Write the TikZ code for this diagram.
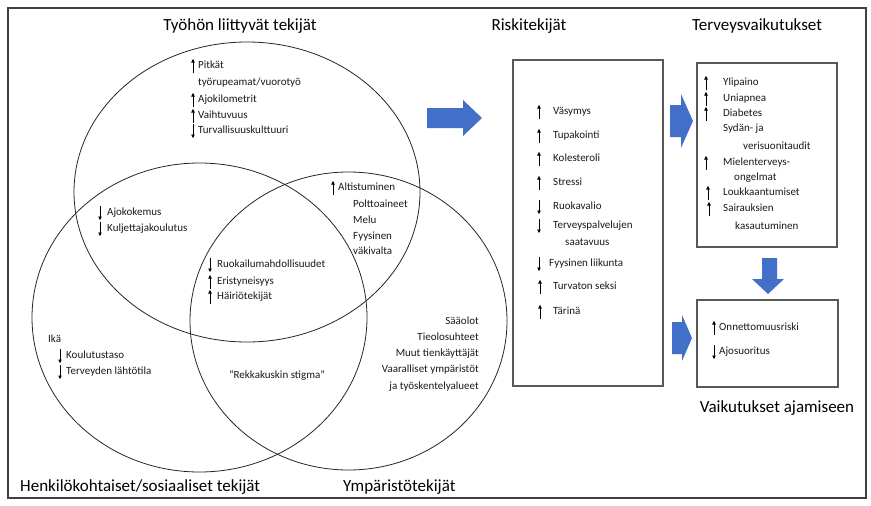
\documentclass[tikz,border=0pt]{standalone}
\usepackage{fontspec}
\setmainfont{Carlito}
\usetikzlibrary{shapes.geometric,arrows.meta}
\definecolor{arrowblue}{RGB}{66,112,200}
\newcommand\upmark[2]{\draw[tinyarr] ([shift={(#2,7)}]#1.west) -- ([shift={(#2,-7)}]#1.west);}
\newcommand\downmark[2]{\draw[tinyarr] ([shift={(#2,-7)}]#1.west) -- ([shift={(#2,7)}]#1.west);}
\begin{document}
\begin{tikzpicture}[x=1pt,y=-1pt,
  every node/.style={inner sep=0pt},
  item/.style={anchor=west, text height=7.5pt, text depth=2.5pt, font=\fontsize{11}{13}\selectfont, text=black!90},
  ritem/.style={anchor=east, text height=7.5pt, text depth=2.5pt, font=\fontsize{11}{13}\selectfont, text=black!90},
  titletext/.style={font=\fontsize{17}{20}\selectfont, text height=11pt, text depth=3.5pt},
  venn/.style={draw=black!85, line width=0.8pt, ellipse},
  boxed/.style={draw=black!65, line width=1.2pt},
  blockarrow/.style={fill=arrowblue},
  tinyarr/.style={draw=black, line width=0.6pt, -{Triangle[length=3.5pt,width=3.5pt]}}
]
\useasboundingbox (0,0) rectangle (871,506);
\draw[line width=1.3pt, black!75] (8,8) rectangle (866,498);

% Venn ellipses
\node[venn, minimum width=346pt, minimum height=300pt] (work) at (247,192) {};
\node[venn, minimum width=335pt, minimum height=309pt] (pers) at (199.5,317.5) {};
\node[venn, minimum width=317pt, minimum height=298pt] (env) at (348.5,321) {};

% titles
\node[titletext] (tWork) at (240,27) {Työhön liittyvät tekijät};
\node[titletext, anchor=west] (tPers) at (20,488) {Henkilökohtaiset/sosiaaliset tekijät};
\node[titletext, anchor=west] (tEnv) at (343,488) {Ympäristötekijät};
\node[titletext] (tRisk) at (529,27) {Riskitekijät};
\node[titletext] (tHealth) at (757,27) {Terveysvaikutukset};
\node[titletext] (tDrive) at (777,409) {Vaikutukset ajamiseen};

% top circle
\node[item] (w1) at (198,66) {Pitkät};
\node[item] (w1b) at (198,83) {työrupeamat/vuorotyö};
\node[item] (w2) at (198,100) {Ajokilometrit};
\node[item] (w3) at (198,116) {Vaihtuvuus};
\node[item] (w4) at (198,131) {Turvallisuuskulttuuri};
\upmark{w1}{-5}\upmark{w2}{-5}\upmark{w3}{-5}\downmark{w4}{-5}

% work & personal
\node[item] (a1) at (107,213) {Ajokokemus};
\node[item] (a2) at (107,229) {Kuljettajakoulutus};
\downmark{a1}{-7}\downmark{a2}{-7}

% work & environment
\node[item] (e1) at (338,188) {Altistuminen};
\node[item] (e2) at (353,205) {Polttoaineet};
\node[item] (e3) at (353,221) {Melu};
\node[item] (e4) at (353,237) {Fyysinen};
\node[item] (e5) at (353,252) {väkivalta};
\upmark{e1}{-5}

% centre
\node[item] (c1) at (217,265) {Ruokailumahdollisuudet};
\node[item] (c2) at (217,282) {Eristyneisyys};
\node[item] (c3) at (217,297) {Häiriötekijät};
\downmark{c1}{-7}\upmark{c2}{-7}\upmark{c3}{-7}

% personal only
\node[item] (p0) at (48,340) {Ikä};
\node[item] (p1) at (66,356) {Koulutustaso};
\node[item] (p2) at (66,372) {Terveyden lähtötila};
\downmark{p1}{-6}\downmark{p2}{-6}

% personal & environment
\node[item, anchor=center] (st) at (277,376) {“Rekkakuskin stigma”};

% environment only
\node[ritem] (r1) at (479,322) {Sääolot};
\node[ritem] (r2) at (479,338) {Tieolosuhteet};
\node[ritem] (r3) at (479,354) {Muut tienkäyttäjät};
\node[ritem] (r4) at (479,370) {Vaaralliset ympäristöt};
\node[ritem] (r5) at (479,387) {ja työskentelyalueet};

% risk box
\node[boxed, minimum width=150pt, minimum height=326pt] (riskbox) at (588,223) {};
\node[item] (k1) at (553,112) {Väsymys};
\node[item] (k2) at (553,136) {Tupakointi};
\node[item] (k3) at (553,159) {Kolesteroli};
\node[item] (k4) at (553,183) {Stressi};
\node[item] (k5) at (553,207) {Ruokavalio};
\node[item] (k6) at (553,226) {Terveyspalvelujen};
\node[item] (k6b) at (565,243) {saatavuus};
\node[item] (k7) at (549,264) {Fyysinen liikunta};
\node[item] (k8) at (553,287) {Turvaton seksi};
\node[item] (k9) at (553,312) {Tärinä};
\upmark{k1}{-14}\upmark{k2}{-14}\upmark{k3}{-14}\upmark{k4}{-14}
\downmark{k5}{-14}\downmark{k6}{-14}\downmark{k7}{-10}
\upmark{k8}{-13}\upmark{k9}{-13}

% health box
\node[boxed, minimum width=140pt, minimum height=184pt] (healthbox) at (767,155) {};
\node[item] (h1) at (723,83) {Ylipaino};
\node[item] (h2) at (723,99) {Uniapnea};
\node[item] (h3) at (723,114) {Diabetes};
\node[item] (h4) at (723,129) {Sydän- ja};
\node[item] (h4b) at (743,147) {verisuonitaudit};
\node[item] (h5) at (723,163) {Mielenterveys-};
\node[item] (h5b) at (734,178) {ongelmat};
\node[item] (h6) at (723,193) {Loukkaantumiset};
\node[item] (h7) at (723,209) {Sairauksien};
\node[item] (h7b) at (735,227) {kasautuminen};
\upmark{h1}{-17}\upmark{h2}{-17}\upmark{h3}{-17}\upmark{h5}{-17}
\upmark{h6}{-15}\upmark{h7}{-14}

% driving box
\node[boxed, minimum width=141pt, minimum height=87pt] (drivebox) at (767.5,343.5) {};
\node[item] (v1) at (719,328) {Onnettomuusriski};
\node[item] (v2) at (719,352) {Ajosuoritus};
\upmark{v1}{-5}\downmark{v2}{-5}

% block arrows
\fill[blockarrow] (427,108) -- (463,108) -- (463,100) -- (482,118) -- (463,136) -- (463,128) -- (427,128) -- cycle;
\fill[blockarrow] (670,105) -- (681,105) -- (681,94) -- (693,121) -- (681,148) -- (681,137) -- (670,137) -- cycle;
\fill[blockarrow] (672,322) -- (682,322) -- (682,315) -- (692,338) -- (682,361) -- (682,354) -- (672,354) -- cycle;
\fill[blockarrow] (762,258) -- (777,258) -- (777,279) -- (784,279) -- (768,294) -- (752,279) -- (762,279) -- cycle;
\end{tikzpicture}
\end{document}
